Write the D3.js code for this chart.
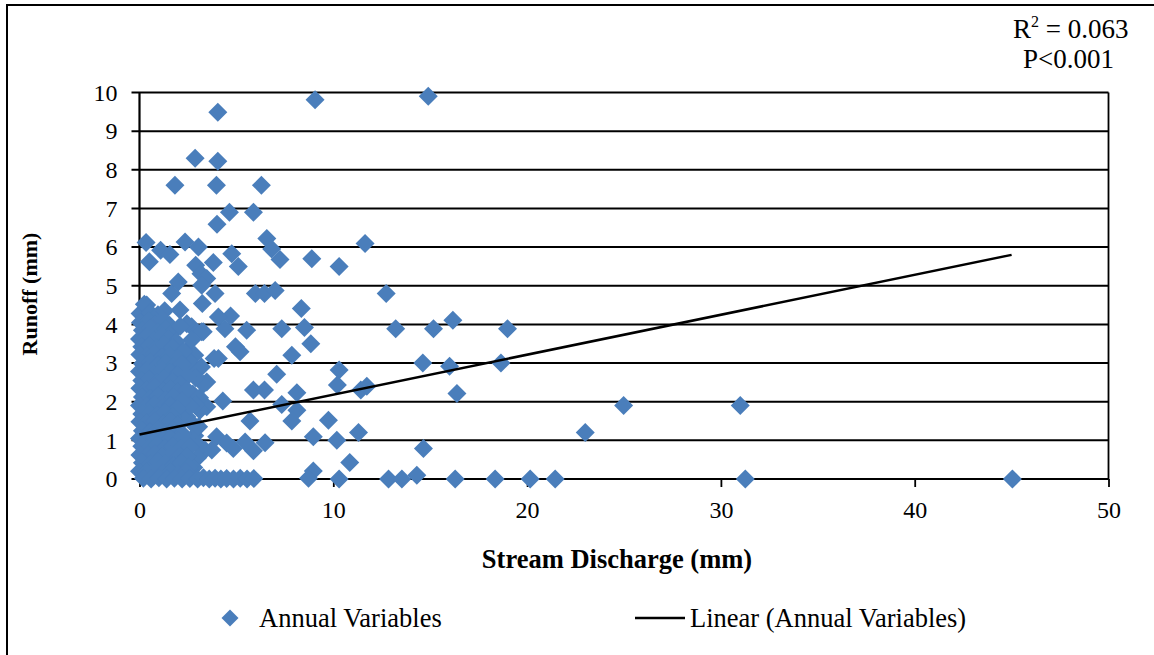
<!DOCTYPE html>
<html>
<head>
<meta charset="utf-8">
<script src="https://cdn.jsdelivr.net/npm/d3@7"></script>
<style>
  html, body { margin: 0; padding: 0; background: #fff; }
  svg { display: block; }
  text { font-family: "Liberation Serif", "Times New Roman", serif; fill: #000; }
</style>
</head>
<body>
<svg id="chart" width="1154" height="655"></svg>
<script>
// Annual stream discharge (mm) vs runoff (mm), one [discharge, runoff] pair per record
const annualVariables = [
  // scattered upper records
  [4.04, 9.49], [9.06, 9.81], [14.9, 9.9],
  [2.87, 8.3], [4.04, 8.22],
  [1.83, 7.6], [3.97, 7.6], [6.29, 7.6],
  [4.64, 6.9], [5.88, 6.9], [4.0, 6.59],
  [0.34, 6.12], [1.09, 5.92], [1.57, 5.81], [0.51, 5.62], [2.35, 6.13], [3.04, 6.0],
  [4.76, 5.83], [5.1, 5.5], [6.57, 6.22], [6.82, 5.95], [7.25, 5.68],
  [8.89, 5.7], [10.3, 5.5], [11.64, 6.09], [12.73, 4.8],
  [3.81, 5.6], [2.9, 5.53], [3.17, 5.31], [3.47, 5.19], [2.0, 5.1], [3.21, 5.01],
  [1.66, 4.8], [3.9, 4.8], [0.37, 4.5], [2.09, 4.37], [3.24, 4.54], [4.7, 4.22],
  [4.07, 4.19], [0.89, 4.11], [2.69, 3.94], [0.03, 4.28],
  [5.98, 4.8], [6.45, 4.8], [7.0, 4.88], [8.35, 4.41],
  [4.41, 3.89], [5.53, 3.85], [3.29, 3.81], [7.34, 3.89], [8.51, 3.92], [8.84, 3.5],
  [7.86, 3.2], [4.95, 3.42], [5.19, 3.29], [3.85, 3.12], [4.07, 3.12],
  [13.22, 3.89], [15.17, 3.89], [16.17, 4.11], [18.99, 3.89],
  [14.62, 3.0], [16.0, 2.92], [18.65, 3.0], [16.38, 2.21],
  [10.3, 2.82], [10.21, 2.43], [11.42, 2.3], [11.73, 2.4],
  [7.08, 2.71], [3.47, 2.51], [5.88, 2.3], [6.45, 2.3], [8.12, 2.23], [7.34, 1.93],
  [8.12, 1.78], [7.86, 1.5], [9.75, 1.52], [4.3, 2.02], [3.47, 1.87], [5.7, 1.5],
  [8.97, 1.09], [10.18, 1.0], [11.3, 1.2], [3.98, 1.09], [4.5, 0.93], [5.45, 0.96],
  [5.88, 0.73], [6.48, 0.94], [3.38, 0.75], [4.84, 0.79], [3.12, 0.83], [3.73, 0.75],
  [14.65, 0.79], [10.85, 0.43], [8.97, 0.21],
  [23.0, 1.2], [24.98, 1.9], [31.0, 1.9],
  // records with (near) zero runoff
  [8.72, 0.02], [10.3, 0], [12.85, 0], [13.54, 0], [14.31, 0.1], [16.29, 0],
  [18.35, 0], [20.16, 0], [21.45, 0], [31.26, 0], [45.04, 0],
  // edge of the dense low-discharge group
  [2.44, 4.02], [2.44, 3.33], [2.6, 2.9], [3.21, 3.81], [3.2, 2.9], [3.3, 2.45],
  [3.1, 2.1], [3.12, 1.78], [2.44, 1.61],
  [2.7, 3.6], [2.85, 3.2], [2.9, 2.62], [2.75, 2.2], [2.9, 1.92], [2.7, 1.45],
  [2.85, 1.12], [3.0, 0.55], [2.8, 0.3], [2.6, 1.88], [2.55, 3.05], [3.05, 1.35],
  // dense low-discharge group
  [0.25, 4.52], [0.55, 4.3], [0.95, 4.25], [1.3, 4.35],
  [0.05, 4.05], [0.45, 4.1], [0.8, 4.02], [1.2, 4.12], [1.55, 3.98],
  [0.15, 3.85], [0.55, 3.9], [0.95, 3.8], [1.35, 3.88], [1.75, 3.82], [2.1, 3.95],
  [0.0, 3.62], [0.35, 3.68], [0.75, 3.6], [1.15, 3.7], [1.5, 3.62], [1.9, 3.55],
  [0.12, 3.42], [0.5, 3.45], [0.9, 3.38], [1.3, 3.48], [1.7, 3.4], [2.25, 3.3],
  [0.02, 3.22], [0.38, 3.18], [0.78, 3.25], [1.15, 3.15], [1.55, 3.2], [1.95, 3.12],
  [0.15, 2.98], [0.55, 3.02], [0.95, 2.95], [1.35, 3.0], [1.75, 2.92], [2.2, 2.98],
  [0.0, 2.78], [0.35, 2.8], [0.75, 2.72], [1.15, 2.82], [1.55, 2.75], [1.95, 2.7], [2.45, 2.65],
  [0.12, 2.55], [0.5, 2.58], [0.9, 2.5], [1.3, 2.6], [1.7, 2.52], [2.1, 2.45],
  [0.02, 2.35], [0.4, 2.3], [0.8, 2.38], [1.2, 2.28], [1.6, 2.35], [2.0, 2.25], [2.45, 2.3],
  [0.15, 2.12], [0.55, 2.08], [0.95, 2.15], [1.35, 2.05], [1.75, 2.12], [2.2, 2.02],
  [0.0, 1.9], [0.38, 1.88], [0.78, 1.92], [1.18, 1.85], [1.58, 1.9], [1.95, 1.82],
  [0.12, 1.68], [0.52, 1.7], [0.92, 1.65], [1.32, 1.72], [1.72, 1.62],
  [0.02, 1.48], [0.4, 1.45], [0.8, 1.5], [1.2, 1.42], [1.6, 1.48], [2.0, 1.4],
  [0.15, 1.25], [0.55, 1.22], [0.95, 1.28], [1.35, 1.2], [1.75, 1.25], [2.2, 1.18],
  [0.0, 1.05], [0.38, 1.02], [0.78, 1.08], [1.18, 1.0], [1.58, 1.05], [1.98, 0.98], [2.4, 1.05],
  [0.12, 0.85], [0.52, 0.82], [0.92, 0.88], [1.32, 0.8], [1.72, 0.85], [2.12, 0.78], [2.6, 0.82],
  [0.02, 0.62], [0.4, 0.6], [0.8, 0.65], [1.2, 0.58], [1.6, 0.62], [2.0, 0.55], [2.45, 0.6],
  [0.15, 0.42], [0.55, 0.38], [0.95, 0.45], [1.35, 0.4], [1.75, 0.35], [2.15, 0.42], [2.55, 0.32],
  [0.0, 0.2], [0.4, 0.18], [0.8, 0.22], [1.2, 0.15], [1.6, 0.2], [2.0, 0.12], [2.4, 0.18],
  [0.2, 0.02], [0.6, 0], [1.0, 0.03], [1.4, 0], [1.8, 0.02], [2.2, 0], [2.6, 0.01], [3.0, 0],
  [3.3, 0.03], [3.6, 0], [3.9, 0.02], [4.2, 0], [4.5, 0.01], [4.85, 0], [5.2, 0.02],
  [5.55, 0], [5.9, 0.01]
];

// Fitted linear trend
const trendIntercept = 1.15;
const trendSlope = 0.1033;
const trendRange = [0, 45];

// Axis ticks
const xTicks = [0, 10, 20, 30, 40, 50];
const yTicks = [0, 1, 2, 3, 4, 5, 6, 7, 8, 9, 10];

const statLines = ["= 0.063", "P<0.001"];
const legendLabels = ["Annual Variables", "Linear (Annual Variables)"];

const svg = d3.select("#chart");
const markerColor = "#4a7ebb";

const x = d3.scaleLinear().domain([0, 50]).range([139.5, 1108.5]);
const y = d3.scaleLinear().domain([0, 10]).range([479, 92.5]);

const diamond = r => {
  const p = d3.path();
  p.moveTo(0, -r); p.lineTo(r, 0); p.lineTo(0, r); p.lineTo(-r, 0); p.closePath();
  return p.toString();
};

// outer chart frame
svg.append("rect")
  .attr("x", 7).attr("y", 5).attr("width", 1200).attr("height", 700)
  .attr("fill", "none").attr("stroke", "#000").attr("stroke-width", 2);

// horizontal gridlines
svg.append("g")
  .selectAll("line").data(yTicks).join("line")
  .attr("x1", x(0) - 8).attr("x2", x(50))
  .attr("y1", d => y(d)).attr("y2", d => y(d))
  .attr("stroke", "#000").attr("stroke-width", 2);

// plot frame verticals
svg.append("line")
  .attr("x1", x(0)).attr("x2", x(0)).attr("y1", y(10)).attr("y2", y(0))
  .attr("stroke", "#000").attr("stroke-width", 2.2);
svg.append("line")
  .attr("x1", x(50)).attr("x2", x(50)).attr("y1", y(10)).attr("y2", y(0))
  .attr("stroke", "#000").attr("stroke-width", 1.8);

// x axis tick marks and labels
const xAxis = d3.axisBottom(x).tickValues(xTicks).tickSize(8).tickPadding(14).tickFormat(d3.format("d"));
const gx = svg.append("g").attr("transform", `translate(0,${y(0)})`).call(xAxis);
gx.select(".domain").remove();
gx.selectAll(".tick line").attr("stroke", "#000").attr("stroke-width", 1.8);
gx.selectAll(".tick text").attr("font-size", 24).attr("font-family", "Liberation Serif").attr("fill", "#000");

// y axis labels
const yAxis = d3.axisLeft(y).tickValues(yTicks).tickSize(0).tickPadding(22).tickFormat(d3.format("d"));
const gy = svg.append("g").attr("transform", `translate(${x(0)},0)`).call(yAxis);
gy.select(".domain").remove();
gy.selectAll(".tick text").attr("font-size", 24).attr("font-family", "Liberation Serif").attr("fill", "#000");

// data markers
svg.append("g")
  .selectAll("path").data(annualVariables).join("path")
  .attr("d", diamond(9.5))
  .attr("transform", d => `translate(${x(d[0])},${y(d[1])})`)
  .attr("fill", markerColor);

// linear trend line
svg.append("line")
  .attr("x1", x(trendRange[0])).attr("y1", y(trendIntercept + trendSlope * trendRange[0]))
  .attr("x2", x(trendRange[1])).attr("y2", y(trendIntercept + trendSlope * trendRange[1]))
  .attr("stroke", "#000").attr("stroke-width", 2.5);

// axis titles
svg.append("text")
  .attr("x", 617).attr("y", 568).attr("text-anchor", "middle")
  .attr("font-size", 26.5).attr("font-weight", "bold")
  .text("Stream Discharge (mm)");
svg.append("text")
  .attr("transform", "translate(37,294) rotate(-90)").attr("text-anchor", "middle")
  .attr("font-size", 22).attr("font-weight", "bold")
  .text("Runoff (mm)");

// fit statistics
const stat = svg.append("text").attr("x", 1013).attr("y", 38).attr("font-size", 27);
stat.append("tspan").text("R");
stat.append("tspan").attr("font-size", 16).attr("dy", -11).text("2");
stat.append("tspan").attr("dy", 11).text(" " + statLines[0]);
svg.append("text").attr("x", 1023).attr("y", 68).attr("font-size", 27).text(statLines[1]);

// legend
svg.append("path").attr("d", diamond(8.5)).attr("transform", "translate(230,618)").attr("fill", markerColor);
svg.append("text").attr("x", 259).attr("y", 627).attr("font-size", 26.5).text(legendLabels[0]);
svg.append("line").attr("x1", 635).attr("x2", 685).attr("y1", 618).attr("y2", 618)
  .attr("stroke", "#000").attr("stroke-width", 2.5);
svg.append("text").attr("x", 690).attr("y", 627).attr("font-size", 26.5).text(legendLabels[1]);
</script>
</body>
</html>
